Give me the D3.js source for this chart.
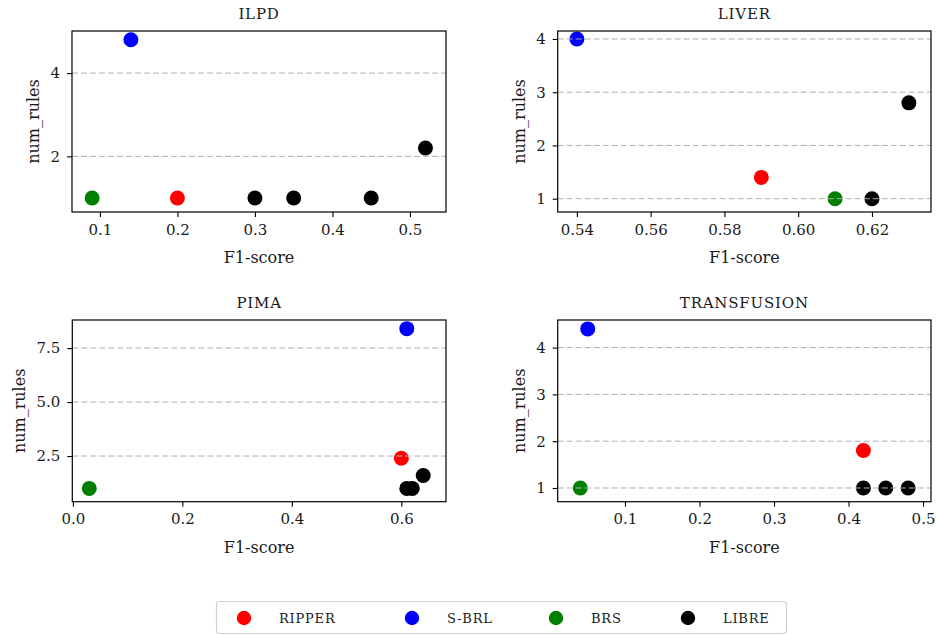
<!DOCTYPE html>
<html>
<head>
<meta charset="utf-8">
<script src="https://cdn.jsdelivr.net/npm/d3@7"></script>
<style>
  body { margin: 0; background: #fff; }
  svg { display: block; font-family: "DejaVu Serif", serif; }
</style>
</head>
<body>
<svg id="chart" width="936" height="635"></svg>
<script>
// data
const datasets = ["ILPD", "LIVER", "PIMA", "TRANSFUSION"]
const methods = ["RIPPER", "S-BRL", "BRS", "LIBRE"]
const methodColors = ["#ff0000", "#0000ff", "#008000", "#000000"]

const ripperF1 = [0.20, 0.59, 0.60, 0.42]
const ripperRules = [1.0, 1.4, 2.4, 1.8]
const sbrlF1 = [0.14, 0.54, 0.61, 0.05]
const sbrlRules = [4.8, 4.0, 8.4, 4.4]
const brsF1 = [0.09, 0.61, 0.03, 0.04]
const brsRules = [1.0, 1.0, 1.0, 1.0]
const libreF1 = [[0.30, 0.35, 0.45, 0.52], [0.62, 0.63], [0.61, 0.62, 0.64], [0.42, 0.45, 0.48]]
const libreRules = [[1.0, 1.0, 1.0, 2.2], [1.0, 2.8], [1.0, 1.0, 1.6], [1.0, 1.0, 1.0]]

// axis ranges and ticks of each panel
const xDomains = [[0.064, 0.5465], [0.5348, 0.636], [-0.001, 0.6816], [0.0097, 0.5107]]
const yDomains = [[0.664, 5.01], [0.75, 4.15], [0.385, 8.80], [0.707, 4.59]]
const xTicks = [[0.1, 0.2, 0.3, 0.4, 0.5], [0.54, 0.56, 0.58, 0.60, 0.62], [0.0, 0.2, 0.4, 0.6], [0.1, 0.2, 0.3, 0.4, 0.5]]
const xFormats = [".1f", ".2f", ".1f", ".1f"]
const yTicks = [[2, 4], [1, 2, 3, 4], [2.5, 5.0, 7.5], [1, 2, 3, 4]]
const yFormats = ["d", "d", ".1f", "d"]

// panel boxes
const panels = [
  { x: 72, y: 31, w: 374, h: 181 },
  { x: 557.7, y: 31, w: 373.3, h: 181 },
  { x: 72.3, y: 320, w: 373.7, h: 181.7 },
  { x: 557.7, y: 320, w: 373.3, h: 181.7 }
]

let svg = d3.select("#chart")
let textColor = "#1a1a1a"

datasets.forEach((name, i) => {
  let p = panels[i]
  let g = svg.append("g").attr("transform", `translate(${p.x},${p.y})`)
  let x = d3.scaleLinear().domain(xDomains[i]).range([0, p.w])
  let y = d3.scaleLinear().domain(yDomains[i]).range([p.h, 0])

  // points of every method
  let pts = []
  pts.push({ f1: brsF1[i], rules: brsRules[i], m: 2 })
  pts.push({ f1: sbrlF1[i], rules: sbrlRules[i], m: 1 })
  pts.push({ f1: ripperF1[i], rules: ripperRules[i], m: 0 })
  libreF1[i].forEach((v, k) => pts.push({ f1: v, rules: libreRules[i][k], m: 3 }))

  g.append("g")
    .selectAll("circle")
    .data(pts)
    .enter()
    .append("circle")
    .attr("cx", d => x(d.f1))
    .attr("cy", d => y(d.rules))
    .attr("r", 7.5)
    .attr("fill", d => methodColors[d.m])

  // dashed grid on top of the points
  g.append("g")
    .selectAll("line")
    .data(yTicks[i])
    .enter()
    .append("line")
    .attr("x1", 0)
    .attr("x2", p.w)
    .attr("y1", d => y(d))
    .attr("y2", d => y(d))
    .attr("stroke", "#b0b0b0")
    .attr("stroke-width", 1)
    .attr("stroke-dasharray", "6,3")

  // axes
  let xAxis = g.append("g")
    .attr("transform", `translate(0,${p.h})`)
    .call(d3.axisBottom(x).tickValues(xTicks[i]).tickFormat(d3.format(xFormats[i])).tickSize(5).tickPadding(7).tickSizeOuter(0))
  let yAxis = g.append("g")
    .call(d3.axisLeft(y).tickValues(yTicks[i]).tickFormat(d3.format(yFormats[i])).tickSize(5).tickPadding(7).tickSizeOuter(0))
  ;[xAxis, yAxis].forEach(a => {
    a.select(".domain").remove()
    a.selectAll("line").attr("stroke", "#000").attr("stroke-width", 1.1)
    a.selectAll("text").attr("font-family", "DejaVu Serif").attr("font-size", 15).attr("fill", textColor)
  })

  // frame
  g.append("rect")
    .attr("width", p.w)
    .attr("height", p.h)
    .attr("fill", "none")
    .attr("stroke", "#000")
    .attr("stroke-width", 1.2)

  // title
  g.append("text")
    .attr("x", p.w / 2)
    .attr("y", -12)
    .attr("text-anchor", "middle")
    .attr("font-size", 15)
    .attr("letter-spacing", 0.8)
    .attr("fill", textColor)
    .text(name)

  // x label
  g.append("text")
    .attr("x", p.w / 2)
    .attr("y", p.h + 51)
    .attr("text-anchor", "middle")
    .attr("font-size", 16)
    .attr("fill", textColor)
    .text("F1-score")

  // y label, placed left of the widest tick label
  let minX = d3.min(yAxis.selectAll("text").nodes(), n => n.getBBox().x)
  g.append("text")
    .attr("transform", `translate(${minX - 11},${p.h / 2}) rotate(-90)`)
    .attr("text-anchor", "middle")
    .attr("font-size", 16)
    .attr("fill", textColor)
    .text("num_rules")
})

// legend
let legend = svg.append("g")
legend.append("rect")
  .attr("x", 216.5)
  .attr("y", 601.5)
  .attr("width", 570)
  .attr("height", 32)
  .attr("rx", 3)
  .attr("fill", "#fff")
  .attr("stroke", "#d0d0d0")
  .attr("stroke-width", 1.2)
let legendOffsets = [244, 412, 556, 688]
let items = legend.selectAll("g.item")
  .data(methods)
  .enter()
  .append("g")
  .attr("class", "item")
  .attr("transform", (d, i) => `translate(${legendOffsets[i]},618)`)
items.append("circle")
  .attr("r", 7.2)
  .attr("fill", (d, i) => methodColors[i])
items.append("text")
  .attr("x", 35)
  .attr("dy", "0.36em")
  .attr("font-size", 13)
  .attr("letter-spacing", 0.8)
  .attr("fill", textColor)
  .text(d => d)
</script>
</body>
</html>
